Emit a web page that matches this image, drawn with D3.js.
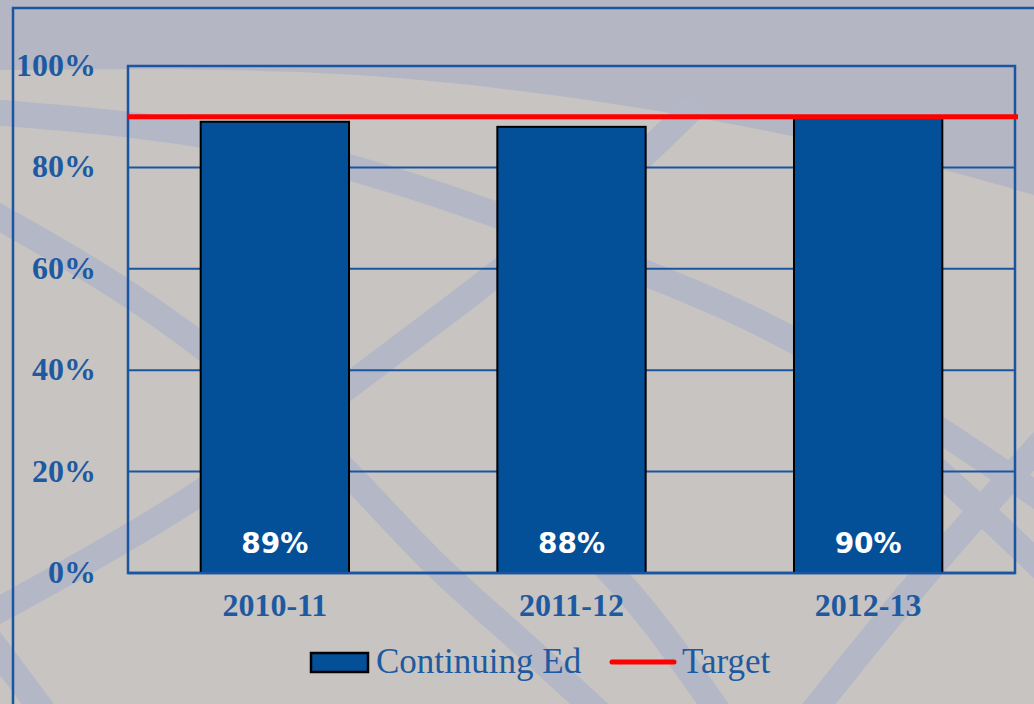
<!DOCTYPE html>
<html>
<head>
<meta charset="utf-8">
<script src="https://cdn.jsdelivr.net/npm/d3@7/dist/d3.min.js"></script>
<style>
  html, body { margin: 0; padding: 0; background: #c8c4c1; }
  svg { display: block; }
</style>
</head>
<body>
<script>
// chart values
var categories = ["2010-11", "2011-12", "2012-13"];
var continuingEd = [0.89, 0.88, 0.90];
var barLabels = ["89%", "88%", "90%"];
var target = 0.90;
var yTicks = [0, 0.2, 0.4, 0.6, 0.8, 1.0];
var legendNames = ["Continuing Ed", "Target"];

var w = 1034, h = 704;
var blue = "#1a56a0", barBlue = "#034f98", textBlue = "#1d5aa1";

var svg = d3.select("body").append("svg").attr("width", w).attr("height", h);

// decorative background (globe-like swooshes)
var bg = svg.append("g");
bg.append("rect").attr("width", w).attr("height", h).attr("fill", "#c8c4c1");
var curve = d3.line().curve(d3.curveBasis);
var topEdge = [[0, 70], [0, 70], [300, 68], [500, 87], [660, 110], [800, 137], [930, 165], [1034, 195], [1034, 195]];
bg.append("path")
  .attr("d", curve(topEdge) + "L1034,0L0,0Z")
  .attr("fill", "#b4b6c4");
var swooshes = [
  [[-10, 112], [150, 125], [300, 150], [495, 212], [645, 273], [800, 335], [1044, 500]],
  [[-10, 212], [132, 292], [260, 390], [349, 471], [428, 561], [520, 640], [600, 714]],
  [[-10, 615], [190, 505], [330, 400], [450, 310], [560, 225], [640, 160], [690, 110]],
  [[1044, 440], [990, 500], [936, 561], [870, 640], [811, 714]],
  [[880, 420], [960, 490], [1044, 570]],
  [[-10, 640], [20, 680], [45, 714]],
  [[560, 520], [640, 600], [720, 714]]
];
bg.selectAll("path.sw")
  .data(swooshes)
  .enter().append("path")
  .attr("class", "sw")
  .attr("d", curve)
  .attr("fill", "none")
  .attr("stroke", "#b4b7c6")
  .attr("stroke-width", 26)
  .attr("stroke-linecap", "round");

// outer frame
svg.append("path")
  .attr("d", "M13,704 L13,8 L1034,8")
  .attr("fill", "none").attr("stroke", blue).attr("stroke-width", 2.5);

var x0 = 128, x1 = 1015, yTop = 66, yBot = 573;
var x = d3.scaleBand().domain(categories).range([x0, x1]).paddingInner(0.5).paddingOuter(0.245);
var y = d3.scaleLinear().domain([0, 1]).range([yBot, yTop]);

// gridlines
svg.append("g").selectAll("line")
  .data(yTicks.slice(1))
  .enter().append("line")
  .attr("x1", x0).attr("x2", x1)
  .attr("y1", function(d) { return y(d); })
  .attr("y2", function(d) { return y(d); })
  .attr("stroke", blue).attr("stroke-width", 2);

// plot border
svg.append("rect")
  .attr("x", x0).attr("y", yTop)
  .attr("width", x1 - x0).attr("height", yBot - yTop)
  .attr("fill", "none").attr("stroke", blue).attr("stroke-width", 2.5);

// bars
svg.append("g").selectAll("rect")
  .data(continuingEd)
  .enter().append("rect")
  .attr("x", function(d, i) { return x(categories[i]); })
  .attr("y", function(d) { return y(d); })
  .attr("width", x.bandwidth())
  .attr("height", function(d) { return y(0) - y(d); })
  .attr("fill", barBlue)
  .attr("stroke", "#000").attr("stroke-width", 2);

// redraw baseline over bars
svg.append("line")
  .attr("x1", x0).attr("x2", x1).attr("y1", y(0)).attr("y2", y(0))
  .attr("stroke", blue).attr("stroke-width", 2.5);

// target line
svg.append("line")
  .attr("x1", x0).attr("x2", x1 + 3)
  .attr("y1", y(target)).attr("y2", y(target))
  .attr("stroke", "#ff0000").attr("stroke-width", 5);

// bar labels
svg.append("g").selectAll("text")
  .data(barLabels)
  .enter().append("text")
  .text(function(d) { return d; })
  .attr("x", function(d, i) { return x(categories[i]) + x.bandwidth() / 2; })
  .attr("y", 553)
  .attr("text-anchor", "middle")
  .attr("font-family", "DejaVu Sans, sans-serif")
  .attr("font-weight", "bold")
  .attr("font-size", "28px")
  .attr("fill", "#fff");

// y axis labels
svg.append("g").selectAll("text")
  .data(yTicks)
  .enter().append("text")
  .text(d3.format(".0%"))
  .attr("x", 96)
  .attr("y", function(d) { return y(d) + 10; })
  .attr("text-anchor", "end")
  .attr("font-family", "Liberation Serif, serif")
  .attr("font-weight", "bold")
  .attr("font-size", "32px")
  .attr("fill", textBlue);

// x axis labels
svg.append("g").selectAll("text")
  .data(categories)
  .enter().append("text")
  .text(function(d) { return d; })
  .attr("x", function(d) { return x(d) + x.bandwidth() / 2; })
  .attr("y", 616)
  .attr("text-anchor", "middle")
  .attr("font-family", "Liberation Serif, serif")
  .attr("font-weight", "bold")
  .attr("font-size", "32px")
  .attr("fill", textBlue);

// legend
var lg = svg.append("g");
lg.append("rect")
  .attr("x", 311).attr("y", 653).attr("width", 57).attr("height", 19)
  .attr("fill", barBlue).attr("stroke", "#000").attr("stroke-width", 2.5);
lg.append("text").text(legendNames[0])
  .attr("x", 376).attr("y", 673)
  .attr("font-family", "Liberation Serif, serif")
  .attr("font-size", "35px")
  .attr("fill", textBlue);
lg.append("line")
  .attr("x1", 612).attr("x2", 674).attr("y1", 662).attr("y2", 662)
  .attr("stroke", "#ff0000").attr("stroke-width", 5).attr("stroke-linecap", "round");
lg.append("text").text(legendNames[1])
  .attr("x", 682).attr("y", 673)
  .attr("font-family", "Liberation Serif, serif")
  .attr("font-size", "35px")
  .attr("fill", textBlue);
</script>
</body>
</html>
